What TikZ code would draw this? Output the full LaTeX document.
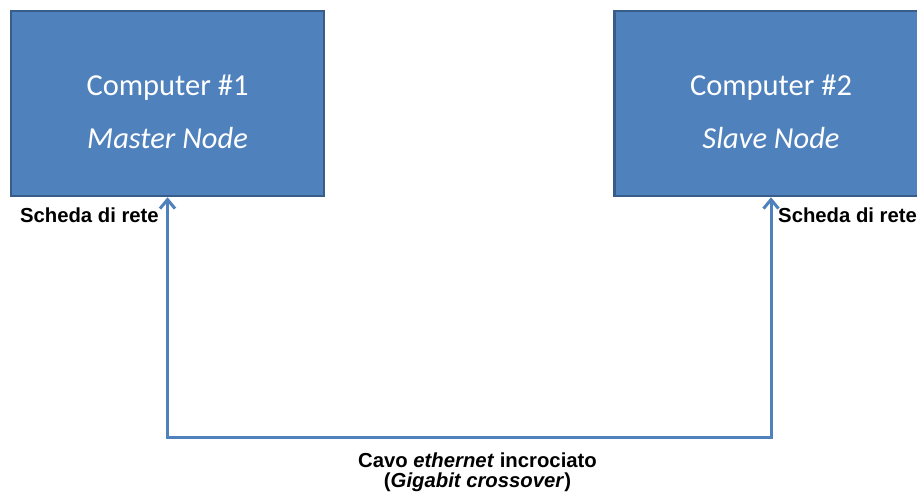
\documentclass[tikz,border=0pt]{standalone}
\usepackage{fontspec}
\setmainfont{Liberation Sans}
\newfontfamily\calib{Carlito}
\usetikzlibrary{arrows.meta}
\definecolor{boxfill}{HTML}{4F81BD}
\definecolor{boxline}{HTML}{385D8A}
\begin{document}
\begin{tikzpicture}[x=1pt,y=-1pt,
  pcbox/.style={draw=boxline,fill=boxfill,line width=2.5pt,minimum width=313pt,minimum height=185pt,inner sep=0pt},
  boxtext/.style={text=white,font=\calib\fontsize{30.5}{36}\selectfont,anchor=base,inner sep=0pt},
  nic/.style={font=\bfseries\fontsize{20.3}{20}\selectfont,anchor=base,inner sep=0pt},
  cable/.style={draw=boxfill,line width=3pt,{Straight Barb[length=9pt,width=15pt]}-{Straight Barb[length=9pt,width=15pt]}},
  cablelabel/.style={font=\bfseries\fontsize{20.3}{20}\selectfont,align=center,inner sep=0pt,anchor=base}]
\useasboundingbox (0,0) rectangle (917,495);
\fill[white] (0,0) rectangle (917,495);
\node[pcbox] (box1) at (167.5,103.5) {};
\node[pcbox] (box2) at (771,103.5) {};
\node[boxtext] (t1a) at (167.5,95) {Computer \#1};
\node[boxtext] (t1b) at (167.5,148) {\itshape Master Node};
\node[boxtext] (t2a) at (771,95) {Computer \#2};
\node[boxtext] (t2b) at (771,148) {\itshape Slave Node};
\node[nic,anchor=base east] (n1) at (159,222) {Scheda di rete};
\node[nic,anchor=base west] (n2) at (778,222) {Scheda di rete};
\coordinate (c1) at (167.5,437);
\coordinate (c2) at (771,437);
\draw[cable] (box1.south) -- (c1) -- (c2) -- (box2.south);
\node[cablelabel] (lab) at (477.5,487) {Cavo \textit{ethernet} incrociato\\(\textit{Gigabit crossover})};
\end{tikzpicture}
\end{document}
